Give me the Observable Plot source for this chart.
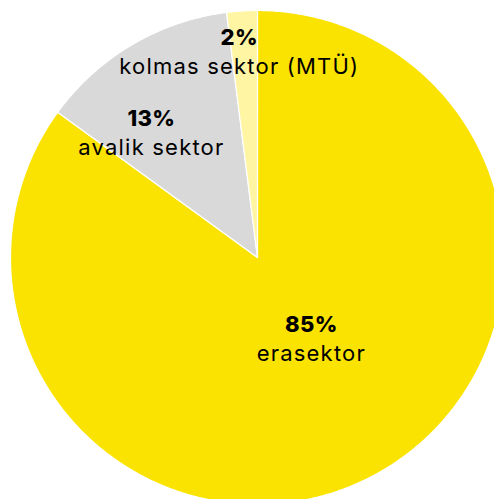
<!DOCTYPE html>
<html><head><meta charset="utf-8">
<script src="https://cdn.jsdelivr.net/npm/d3@7"></script>
<script src="https://cdn.jsdelivr.net/npm/@observablehq/plot@0.6"></script>
<style>
html,body{margin:0;padding:0;background:#fff;overflow:hidden;}
</style></head>
<body><div id="chart"></div>
<script>
const sectors = ["erasektor", "avalik sektor", "kolmas sektor (MTÜ)"];
const shares = [85, 13, 2];
const colors = ["#fae300", "#d9d9d9", "#fff5a3"];

// label placement (layout only): radius fraction and angle shift in degrees
const labelR = [0.40, 0.66, 0.83];
const labelShift = [-6, -10, -1.5];

const arcs = d3.pie().sort(null).value(d => d)(shares);
const polys = arcs.map((a, i) => {
  const pts = [{x: 0, y: 0, i}];
  const n = Math.max(8, Math.ceil((a.endAngle - a.startAngle) / 0.01));
  for (let k = 0; k <= n; k++) {
    const t = a.startAngle + (a.endAngle - a.startAngle) * k / n;
    pts.push({x: Math.sin(t), y: Math.cos(t), i});
  }
  pts.push({x: 0, y: 0, i});
  return pts;
});
const labels = arcs.map((a, i) => {
  const m = (a.startAngle + a.endAngle) / 2 + labelShift[i] * Math.PI / 180;
  return {x: labelR[i] * Math.sin(m), y: labelR[i] * Math.cos(m), pct: shares[i] + "%", name: sectors[i]};
});

const chart = Plot.plot({
  width: 494, height: 499,
  margin: 0,
  x: {domain: [-1, 1], range: [10, 504], axis: null},
  y: {domain: [-1, 1], range: [504, 10], axis: null},
  style: {fontFamily: "Inter, sans-serif", background: "#fff"},
  marks: [
    ...polys.map((p, i) => Plot.line(p, {x: "x", y: "y", fill: colors[i], stroke: "#fff", strokeWidth: 1.2, strokeLinejoin: "round"})),
    Plot.text(labels, {x: "x", y: "y", text: "pct", dy: -15, fontSize: 22, fontWeight: 800, fill: "#000"}),
    Plot.text(labels, {x: "x", y: "y", text: "name", dy: 14, fontSize: 22, fill: "#000"})
  ]
});
chart.querySelectorAll("g[aria-label='text']").forEach((g, i) => { g.style.letterSpacing = i === 1 ? "1.2px" : "0.4px"; });
document.getElementById("chart").appendChild(chart);
</script></body></html>
